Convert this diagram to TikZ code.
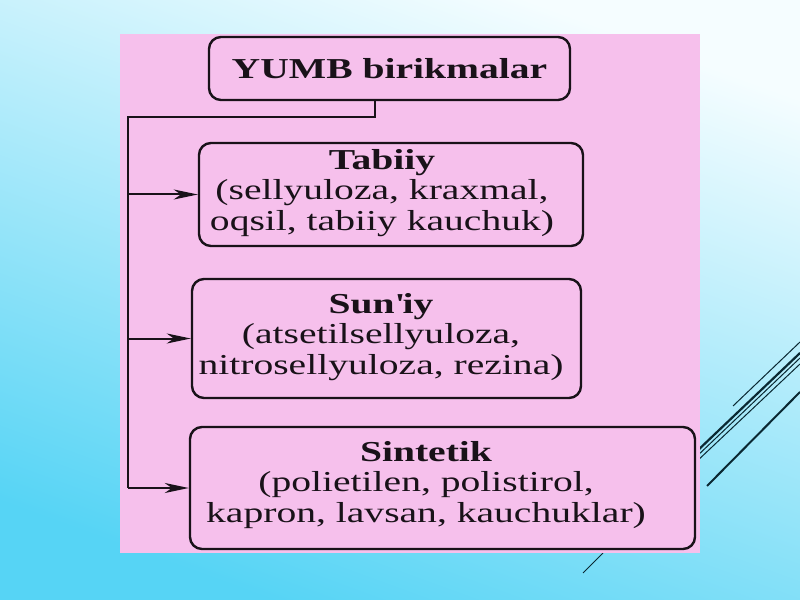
\documentclass[tikz,border=0pt]{standalone}
\usepackage{fontspec}
\setmainfont{Liberation Serif}[FakeStretch=1.37]
\usetikzlibrary{arrows.meta}
\definecolor{pinkbg}{RGB}{246,192,236}
\definecolor{cyanbg}{RGB}{86,212,245}
\definecolor{midbg}{RGB}{145,228,249}
\definecolor{whitebg}{RGB}{245,253,255}
\definecolor{ink}{RGB}{25,18,25}
\definecolor{decoteal}{RGB}{10,40,50}
\begin{document}
\begin{tikzpicture}[x=1bp,y=-1bp,
  box/.style={draw=ink, line width=2.4bp, rounded corners=12bp, fill=pinkbg, inner sep=0pt},
  txt/.style={align=center, font=\fontsize{29}{30.5}\selectfont, text=ink, inner sep=0pt},
  conn/.style={draw=ink, line width=2bp},
  arr/.style={conn, -{Stealth[length=24bp,width=10bp,inset=7bp]}},
  deco/.style={draw=decoteal}]
\useasboundingbox (0,0) rectangle (800,600);
\shade[top color=whitebg, middle color=midbg, bottom color=cyanbg, shading angle=-20] (0,0) rectangle (800,600);
% decorative lines
\draw[deco, line width=1bp] (733,406) -- (800,342);
\draw[deco, line width=2.2bp] (695,453) -- (800,353);
\draw[deco, line width=1bp] (695,458) -- (800,358);
\draw[deco, line width=1bp] (695,463) -- (800,364);
\draw[deco, line width=2bp] (707,486) -- (800,392);
\draw[deco, line width=0.8bp] (583,573) -- (603,553);
% pink panel
\fill[pinkbg] (120,34) rectangle (700,553);
% boxes
\node[box, minimum width=361bp, minimum height=63bp, txt, font=\fontsize{29}{30.5}\selectfont\bfseries] (top) at (389.5,68.5) {YUMB birikmalar};
\node[box, minimum width=384bp, minimum height=103bp] (b1) at (391,194.5) {};
\node[box, minimum width=389bp, minimum height=119bp] (b2) at (386.5,338.5) {};
\node[box, minimum width=505bp, minimum height=122bp] (b3) at (442.5,488) {};
\node[txt] (t1) at (382,193) {\textbf{Tabiiy}\\(sellyuloza, kraxmal,\\oqsil, tabiiy kauchuk)};
\node[txt] (t2) at (381,337) {\textbf{Sun\textquotesingle iy}\\(atsetilsellyuloza,\\nitrosellyuloza, rezina)};
\node[txt] (t3) at (426,485) {\textbf{Sintetik}\\(polietilen, polistirol,\\kapron, lavsan, kauchuklar)};
% connectors
\coordinate (stem) at (375,117);
\coordinate (trunk) at (128,117);
\draw[conn] (top.south -| stem) -- (stem) -- (trunk) -- (trunk |- b3.west);
\draw[arr] (trunk |- b1.west) -- (b1.west);
\draw[arr] (trunk |- b2.west) -- (b2.west);
\draw[arr] (trunk |- b3.west) -- (b3.west);
\end{tikzpicture}
\end{document}
